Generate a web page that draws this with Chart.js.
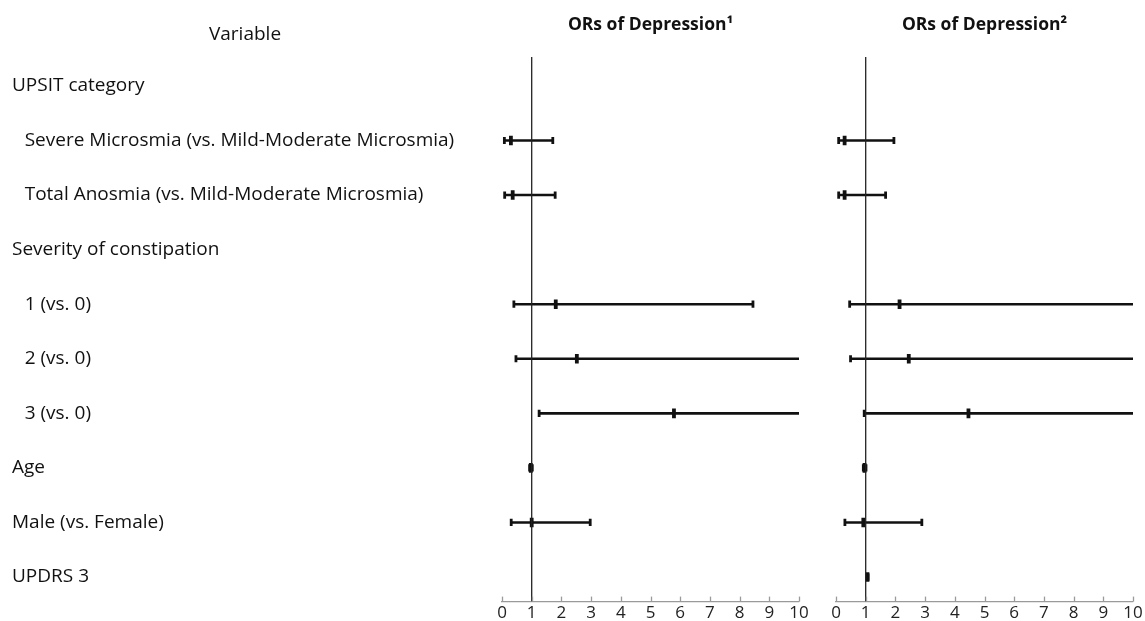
<!DOCTYPE html>
<html>
<head>
<meta charset="utf-8">
<title>ORs of Depression</title>
<script src="https://cdn.jsdelivr.net/npm/chart.js@4/dist/chart.umd.min.js"></script>
<style>
  html, body { margin: 0; padding: 0; background: #ffffff; overflow: hidden; }
  #wrap { position: relative; width: 1145px; height: 621px; overflow: hidden; }
  #leftPanel { position: absolute; left: 0; top: 0; }
  #rightPanel { position: absolute; left: 815px; top: 0; }
</style>
</head>
<body>
<div id="wrap">
  <canvas id="leftPanel" width="815" height="624"></canvas>
  <canvas id="rightPanel" width="330" height="624"></canvas>
</div>
<script>
// Row labels (row 0 is the header row, data rows start at 1)
const rowLabels = [
  'UPSIT category',
  'Severe Microsmia (vs. Mild-Moderate Microsmia)',
  'Total Anosmia (vs. Mild-Moderate Microsmia)',
  'Severity of constipation',
  '1 (vs. 0)',
  '2 (vs. 0)',
  '3 (vs. 0)',
  'Age',
  'Male (vs. Female)',
  'UPDRS 3'
];
const rowIndented = [false, true, true, false, true, true, true, false, false, false];

const xTickValues = [0, 1, 2, 3, 4, 5, 6, 7, 8, 9, 10];
const headerLeft = 'Variable';
const title1 = 'ORs of Depression\u00B9';
const title2 = 'ORs of Depression\u00B2';

// Model 1: odds ratio and 95% CI (upper bounds past 10 run off the axis)
const or1   = [null, 0.30, 0.36, null, 1.81, 2.52, 5.79, 0.97, 1.00, null];
const low1  = [null, 0.08, 0.09, null, 0.40, 0.47, 1.25, 0.93, 0.31, null];
const high1 = [null, 1.71, 1.79, null, 8.45, 10.0, 10.0, 1.02, 2.97, null];

// Model 2
const or2   = [null, 0.29, 0.29, null, 2.14, 2.45, 4.46, 0.96, 0.92, 1.06];
const low2  = [null, 0.09, 0.09, null, 0.46, 0.49, 0.95, 0.92, 0.30, 1.04];
const high2 = [null, 1.95, 1.67, null, 10.0, 10.0, 10.0, 1.01, 2.89, 1.08];

const X_MIN = 0, X_MAX = 10;
const Y_MIN = 0.47, Y_MAX = 10.45;

const FONT = '"Open Sans", Lato, sans-serif';
const INK = '#111111';
const AXIS_GREY = '#9a9a9a';
const INDENT = '\u2002\u2006';

function buildDatasets(est, low, high) {
  const sets = [];
  // reference line at OR = 1
  sets.push({
    data: [{ x: 1, y: Y_MIN }, { x: 1, y: Y_MAX }],
    showLine: true,
    borderColor: '#222222',
    borderWidth: 1.3,
    pointRadius: 0
  });
  est.forEach((v, i) => {
    if (v === null) return;
    const y = i + 1;
    const right = Math.min(high[i], X_MAX);
    const capRight = high[i] < X_MAX ? 3.6 : 0;
    // confidence interval with end caps
    sets.push({
      data: [{ x: low[i], y }, { x: right, y }],
      showLine: true,
      borderColor: INK,
      borderWidth: 2.6,
      pointStyle: 'line',
      rotation: 90,
      pointRadius: [3.6, capRight],
      pointBorderWidth: 2.8,
      pointBorderColor: INK
    });
  });
  // point estimates
  sets.push({
    data: est.map((v, i) => (v === null ? null : { x: v, y: i + 1 })).filter(p => p !== null),
    showLine: false,
    pointStyle: 'line',
    rotation: 90,
    pointRadius: 4.8,
    pointBorderWidth: 3.8,
    pointBorderColor: INK,
    borderColor: INK
  });
  return sets;
}

// column headings above the plot and upward tick marks on the OR axis
const headerPlugin = {
  id: 'headers',
  afterDraw(chart, args, opts) {
    const ctx = chart.ctx;
    const area = chart.chartArea;
    const xs = chart.scales.x;
    ctx.save();
    ctx.strokeStyle = AXIS_GREY;
    ctx.lineWidth = 1.3;
    xTickValues.forEach(v => {
      const px = Math.round(xs.getPixelForValue(v)) + 0.5;
      ctx.beginPath();
      ctx.moveTo(px, area.bottom);
      ctx.lineTo(px, area.bottom - 5);
      ctx.stroke();
    });
    ctx.fillStyle = '#111111';
    ctx.textBaseline = 'middle';
    ctx.textAlign = 'center';
    ctx.font = 'bold 17.5px ' + FONT;
    ctx.fillText(opts.title, (area.left + area.right) / 2, opts.titleY);
    if (opts.side) {
      ctx.font = '19px ' + FONT;
      ctx.fillText(opts.side, opts.sideX, opts.sideY);
    }
    ctx.restore();
  }
};

function xScale() {
  return {
    type: 'linear',
    position: 'bottom',
    min: X_MIN,
    max: X_MAX,
    afterBuildTicks: (s) => { s.ticks = xTickValues.map(v => ({ value: v })); },
    ticks: {
      font: { family: FONT, size: 17 },
      color: '#222222',
      padding: 1,
      maxRotation: 0,
      autoSkip: false
    },
    grid: {
      drawOnChartArea: false,
      drawTicks: false,
      color: AXIS_GREY,
      lineWidth: 1.3
    },
    border: { color: AXIS_GREY, width: 1.3 }
  };
}

function yScale(showLabels) {
  return {
    type: 'linear',
    position: 'left',
    reverse: true,
    min: Y_MIN,
    max: Y_MAX,
    display: showLabels,
    afterBuildTicks: (s) => { s.ticks = rowLabels.map((_, i) => ({ value: i + 1 })); },
    afterFit: (s) => { if (showLabels) s.width = 490; },
    ticks: {
      crossAlign: 'far',
      autoSkip: false,
      padding: 0,
      color: '#111111',
      font: { family: FONT, size: 19 },
      callback: (v) => {
        const i = Math.round(v) - 1;
        return (rowIndented[i] ? INDENT : '') + rowLabels[i];
      }
    },
    grid: { display: false, drawTicks: false },
    border: { display: false }
  };
}

function makeChart(id, est, low, high, title, side, padding) {
  return new Chart(document.getElementById(id), {
    type: 'scatter',
    data: { datasets: buildDatasets(est, low, high) },
    options: {
      responsive: false,
      animation: false,
      devicePixelRatio: 1,
      events: [],
      layout: { padding },
      scales: { x: xScale(), y: yScale(!!side) },
      plugins: {
        legend: { display: false },
        tooltip: { enabled: false },
        headers: side
          ? { title, titleY: 25, side, sideX: 245, sideY: 35 }
          : { title, titleY: 25 }
      }
    },
    plugins: [headerPlugin]
  });
}

makeChart('leftPanel', or1, low1, high1, title1, headerLeft,
  { left: 12, right: 16, top: 57, bottom: 0 });
makeChart('rightPanel', or2, low2, high2, title2, null,
  { left: 21, right: 12, top: 57, bottom: 0 });
</script>
</body>
</html>
